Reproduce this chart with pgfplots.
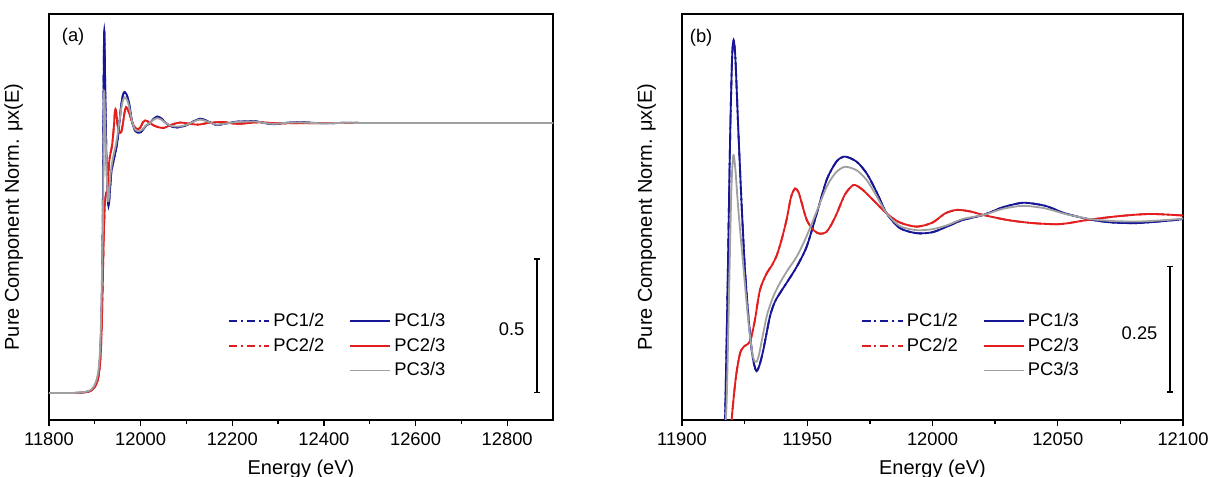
\documentclass[border=0pt]{standalone}
\usepackage{pgfplots}
\pgfplotsset{compat=1.18}
\usepackage{pgfplotstable}
\usepackage{fontspec}
\setmainfont{Liberation Sans}
\usetikzlibrary{arrows.meta}

\definecolor{cblue}{RGB}{22,22,150}
\definecolor{cred}{RGB}{228,30,30}
\definecolor{cgray}{RGB}{160,160,160}

\pgfplotstableread{
E mu
11800 0
11850 0
11875 0.002
11890 0.008
11898 0.02
11904 0.04
11908 0.07
11911 0.12
11913 0.19
11914.5 0.28
11915.8 0.40
11916.6 0.50
11917.2 0.60
11918.2 0.86
11919.2 1.15
11920 1.31
11920.6 1.344
11921.3 1.31
11922.5 1.165
11923.8 1.02
11925.1 0.895
11926.5 0.80
11927.8 0.735
11928.8 0.705
11929.8 0.692
11931 0.705
11932.5 0.735
11935.1 0.800
11937 0.828
11939.1 0.846
11942 0.868
11945.8 0.898
11949.8 0.938
11953.8 1.003
11957.8 1.070
11961.8 1.106
11965.1 1.115
11969.7 1.105
11973.7 1.082
11977.7 1.045
11981.7 1.003
11987 0.974
11993.7 0.964
12000 0.966
12005.7 0.977
12012 0.990
12020.3 1.0
12028 1.015
12036.2 1.024
12045 1.018
12053 1.003
12062.9 0.991
12072 0.985
12081.5 0.984
12090 0.987
12100 0.992
12115 1.006
12130 1.016
12145 1.008
12165 0.993
12185 0.998
12210 1.005
12250 1.007
12270 1.0
12290 0.996
12320 1.001
12350 1.003
12400 0.999
12450 1.001
12500 1.0
12600 1.0
12700 1.0
12800 1.0
12900 1.0
}\pcblue

\pgfplotstableread{
E mu
11800 0
11850 0
11875 0.002
11890 0.007
11898 0.018
11904 0.035
11908 0.06
11911 0.10
11913 0.15
11915 0.24
11917 0.38
11918.5 0.50
11919.8 0.596
11921.5 0.68
11923.2 0.728
11925 0.742
11927.1 0.750
11929 0.79
11931.1 0.852
11933.8 0.885
11935.8 0.900
11937.8 0.920
11939.8 0.952
11941.8 0.992
11943.5 1.035
11945.1 1.052
11946.5 1.045
11948 1.02
11949.8 0.990
11952.5 0.970
11955 0.963
11957.5 0.966
11959.5 0.980
11961.8 1.003
11965 1.040
11968.4 1.059
11971.5 1.052
11975 1.036
11981.7 1.003
11987 0.985
11993.7 0.977
12000 0.985
12005 1.003
12009.7 1.010
12015 1.007
12020.3 1.0
12030 0.990
12040 0.984
12051 0.982
12063 0.991
12075 0.998
12087 1.002
12100 0.999
12110 0.997
12125 0.994
12150 1.001
12180 1.004
12210 0.997
12260 1.003
12300 0.999
12400 1.0
12500 1.0
12700 1.0
12900 1.0
}\pcred

\pgfplotstableread{
E mu
11800 0
11850 0
11875 0.003
11890 0.01
11898 0.025
11904 0.05
11908 0.085
11911 0.145
11913 0.23
11914.5 0.33
11915.8 0.45
11916.8 0.55
11917.8 0.63
11918.8 0.85
11919.7 1.05
11920.5 1.118
11921.3 1.09
11922.5 1.01
11924.5 0.898
11926.5 0.79
11928 0.73
11929.1 0.711
11930.5 0.72
11933.8 0.800
11936.5 0.840
11939.1 0.866
11942 0.89
11945.8 0.918
11949 0.95
11952.4 0.990
11957.8 1.056
11961.5 1.084
11965.1 1.095
11969.7 1.088
11973.7 1.069
11977.7 1.037
11981.7 1.003
11987 0.978
11993.7 0.970
12000 0.972
12006 0.980
12012 0.992
12020.3 1.0
12028 1.012
12036.2 1.018
12045 1.013
12053 1.002
12062.9 0.992
12072 0.988
12081.5 0.987
12090 0.989
12100 0.993
12115 1.005
12130 1.013
12145 1.006
12165 0.994
12185 0.998
12210 1.004
12250 1.006
12270 1.0
12290 0.997
12320 1.001
12350 1.002
12400 0.999
12450 1.001
12500 1.0
12600 1.0
12700 1.0
12800 1.0
12900 1.0
}\pcgray

\pgfplotsset{
  myaxis/.style={
    scale only axis,
    height=243.6pt,
    axis line style={line width=0.9pt},
    ytick=\empty,
    xtick pos=bottom,
    tick align=outside,
    major tick length=3.6pt,
    minor tick length=2.2pt,
    every tick/.style={black, line width=0.8pt},
    minor x tick num=1,
    scaled x ticks=false,
    xticklabel={\pgfmathprintnumber[fixed,precision=0,set thousands separator={},assume math mode=true]{\tick}},
    tick label style={font=\fontsize{11}{13}\selectfont},
    xticklabel style={yshift=-0.5pt},
    label style={font=\fontsize{12}{14}\selectfont},
    xlabel={Energy (eV)},
    ylabel={Pure Component Norm. μx(E)},
    ylabel style={at={(axis description cs:-0.04,0.5)}, anchor=south},
    xlabel style={at={(axis description cs:0.5,-0.085)}, anchor=north},
    legend columns=2,
    legend cell align=left,
    legend style={draw=none, fill=none, anchor=north west,
      font=\fontsize{11}{13}\selectfont,
      row sep=1.3pt,
      /tikz/every even column/.append style={column sep=13pt}},
    legend image code/.code={\draw[##1] (0cm,0cm) -- (0.85cm,0cm);},
    dd/.style={dash pattern=on 5pt off 2.2pt on 1.2pt off 2.2pt},
  },
  curve/.style={line width=1.1pt, smooth, tension=0.45, no marks, forget plot},
}

\begin{document}
\begin{tikzpicture}
\useasboundingbox (-29.4pt,-34.2pt) rectangle (696.6pt,252pt);
\begin{axis}[myaxis,
  width=302.4pt,
  xmin=11800, xmax=12900, ymin=-0.1, ymax=1.404,
  xtick={11800,12000,...,12800},
  legend style={at={(0.345,0.28)}},
]
\addplot[curve, cblue, dd] table[x=E,y=mu] {\pcblue};
\addplot[curve, cred, dd] table[x=E,y=mu] {\pcred};
\addplot[curve, cblue] table[x=E,y=mu] {\pcblue};
\addplot[curve, cred] table[x=E,y=mu] {\pcred};
\addplot[curve, cgray] table[x=E,y=mu] {\pcgray};
\addlegendimage{cblue, line width=0.9pt, dd}\addlegendentry{PC1/2}
\addlegendimage{cblue, line width=0.9pt}\addlegendentry{PC1/3}
\addlegendimage{cred, line width=0.9pt, dd}\addlegendentry{PC2/2}
\addlegendimage{cred, line width=0.9pt}\addlegendentry{PC2/3}
\addlegendimage{empty legend}\addlegendentry{}
\addlegendimage{cgray, line width=0.9pt}\addlegendentry{PC3/3}
\draw[line width=0.9pt, {Bar[width=3.5pt]}-{Bar[width=3.5pt]}] (axis cs:12865,0) -- (axis cs:12865,0.5);
\node[anchor=east, font=\fontsize{11}{13}\selectfont] at (axis cs:12865,0.235) [xshift=-4pt] {0.5};
\node[anchor=west, font=\fontsize{11}{13}\selectfont] at (axis description cs:0.014,0.943) {(a)};
\end{axis}
\begin{axis}[myaxis,
  at={(379.8pt,0pt)},
  width=300.6pt,
  xmin=11900, xmax=12100, ymin=0.596, ymax=1.396,
  xtick={11900,11950,...,12100},
  legend style={at={(0.348,0.28)}},
]
\addplot[curve, cblue, dd] table[x=E,y=mu] {\pcblue};
\addplot[curve, cred, dd] table[x=E,y=mu] {\pcred};
\addplot[curve, cblue] table[x=E,y=mu] {\pcblue};
\addplot[curve, cred] table[x=E,y=mu] {\pcred};
\addplot[curve, cgray] table[x=E,y=mu] {\pcgray};
\addlegendimage{cblue, line width=0.9pt, dd}\addlegendentry{PC1/2}
\addlegendimage{cblue, line width=0.9pt}\addlegendentry{PC1/3}
\addlegendimage{cred, line width=0.9pt, dd}\addlegendentry{PC2/2}
\addlegendimage{cred, line width=0.9pt}\addlegendentry{PC2/3}
\addlegendimage{empty legend}\addlegendentry{}
\addlegendimage{cgray, line width=0.9pt}\addlegendentry{PC3/3}
\draw[line width=0.9pt, {Bar[width=3.5pt]}-{Bar[width=3.5pt]}] (axis cs:12094.8,0.65) -- (axis cs:12094.8,0.90);
\node[anchor=east, font=\fontsize{11}{13}\selectfont] at (axis cs:12094.8,0.767) [xshift=-4pt] {0.25};
\node[anchor=west, font=\fontsize{11}{13}\selectfont] at (axis description cs:0.004,0.941) {(b)};
\end{axis}
\end{tikzpicture}
\end{document}
